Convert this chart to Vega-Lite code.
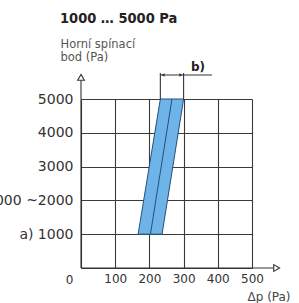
{
  "$schema": "https://vega.github.io/schema/vega-lite/v6.json",
  "width": 171,
  "height": 169,
  "autosize": {"type": "none"},
  "padding": {"left": 81, "top": 99, "right": 47, "bottom": 35},
  "background": "white",
  "config": {"view": {"stroke": null}, "font": "DejaVu Sans"},
  "title": {
    "text": "1000 … 5000 Pa",
    "anchor": "start",
    "frame": "group",
    "dx": -21,
    "offset": 12,
    "font": "DejaVu Sans Condensed, Liberation Sans",
    "fontSize": 14.5,
    "fontWeight": "bold",
    "color": "#222"
  },
  "datasets": {
    "band": [
      {"p": 1000, "lo": 167, "mid": 203, "hi": 237},
      {"p": 5000, "lo": 232, "mid": 266, "hi": 300}
    ],
    "segments": [
      {"x": 0, "x2": 566, "y": 0, "y2": 0},
      {"x": 0, "x2": 0, "y": 0, "y2": 5580},
      {"x": 232, "x2": 232, "y": 5000, "y2": 5770},
      {"x": 300, "x2": 300, "y": 5000, "y2": 5770},
      {"x": 232, "x2": 383, "y": 5710, "y2": 5710}
    ],
    "axisArrows": [
      {"x": 572, "y": 0, "shape": "triangle-right"},
      {"x": 0, "y": 5640, "shape": "triangle-up"}
    ],
    "dimArrows": [
      {"x": 240, "y": 5710, "shape": "triangle-left"},
      {"x": 292, "y": 5710, "shape": "triangle-right"}
    ],
    "notes": [
      {"x": 342, "y": 5950, "text": "b)"}
    ]
  },
  "layer": [
    {
      "data": {"name": "band"},
      "mark": {"type": "area", "orient": "horizontal", "fill": "#6fb4e8", "fillOpacity": 1, "stroke": "#24507a", "strokeWidth": 1},
      "encoding": {
        "y": {
          "field": "p", "type": "quantitative",
          "scale": {"domain": [0, 5000], "nice": false, "zero": true},
          "axis": {
            "values": [0, 1000, 2000, 3000, 4000, 5000],
            "tickCount": 12,
            "format": "d",
            "labelExpr": "datum.value == 1000 ? 'a) 1000' : (datum.value == 2000 ? '1000 ~2000' : datum.label)",
            "labelOffset": {"condition": {"test": "datum.value == 0", "value": 11}, "value": 0},
            "labelFontSize": {"condition": {"test": "datum.value == 0", "value": 12}, "value": 14},
            "labelOverlap": false, "labelBound": false, "labelFlush": false,
            "grid": true, "gridColor": "#3a3a3a", "gridWidth": 1.1, "gridOpacity": 1,
            "ticks": false, "domain": false,
            "labelPadding": 8, "labelColor": "#333", "labelFont": "DejaVu Sans",
            "title": ["Horní spínací", "bod (Pa)"],
            "titleAngle": 0, "titleAlign": "left", "titleBaseline": "top",
            "titleX": -21, "titleY": -61,
            "titleFontWeight": "normal", "titleFontSize": 11.5, "titleColor": "#555",
            "titleFont": "DejaVu Sans", "titleLineHeight": 13
          }
        },
        "x": {
          "field": "lo", "type": "quantitative",
          "scale": {"domain": [0, 500], "nice": false},
          "axis": {
            "values": [0, 100, 200, 300, 400, 500],
            "tickCount": 12,
            "labelExpr": "datum.value == 0 ? '' : datum.label",
            "labelOverlap": false, "labelBound": false, "labelFlush": false,
            "grid": true, "gridColor": "#3a3a3a", "gridWidth": 1.1, "gridOpacity": 1,
            "ticks": false, "domain": false,
            "labelPadding": 5, "labelFontSize": 12, "labelColor": "#333", "labelFont": "DejaVu Sans",
            "title": "Δp (Pa)",
            "titleX": 166, "titleY": 28, "titleAlign": "left", "titleBaseline": "middle",
            "titleFontWeight": "normal", "titleFontSize": 12, "titleColor": "#444", "titleFont": "DejaVu Sans"
          }
        },
        "x2": {"field": "hi"}
      }
    },
    {
      "data": {"name": "band"},
      "mark": {"type": "line", "color": "#24507a", "strokeWidth": 1},
      "encoding": {
        "x": {"field": "mid", "type": "quantitative"},
        "y": {"field": "p", "type": "quantitative"}
      }
    },
    {
      "data": {"name": "segments"},
      "mark": {"type": "rule", "color": "#333", "strokeWidth": 1.1},
      "encoding": {
        "x": {"field": "x", "type": "quantitative"},
        "x2": {"field": "x2"},
        "y": {"field": "y", "type": "quantitative"},
        "y2": {"field": "y2"}
      }
    },
    {
      "data": {"name": "axisArrows"},
      "mark": {"type": "point", "size": 45, "fill": "#fff", "stroke": "#333", "strokeWidth": 1.1, "opacity": 1, "fillOpacity": 1},
      "encoding": {
        "x": {"field": "x", "type": "quantitative"},
        "y": {"field": "y", "type": "quantitative"},
        "shape": {"field": "shape", "type": "nominal", "scale": null}
      }
    },
    {
      "data": {"name": "dimArrows"},
      "mark": {"type": "point", "size": 12, "filled": true, "color": "#333", "opacity": 1},
      "encoding": {
        "x": {"field": "x", "type": "quantitative"},
        "y": {"field": "y", "type": "quantitative"},
        "shape": {"field": "shape", "type": "nominal", "scale": null}
      }
    },
    {
      "data": {"name": "notes"},
      "mark": {"type": "text", "font": "DejaVu Sans", "fontSize": 12, "fontWeight": "bold", "color": "#222", "align": "center", "baseline": "middle"},
      "encoding": {
        "x": {"field": "x", "type": "quantitative"},
        "y": {"field": "y", "type": "quantitative"},
        "text": {"field": "text"}
      }
    }
  ]
}
